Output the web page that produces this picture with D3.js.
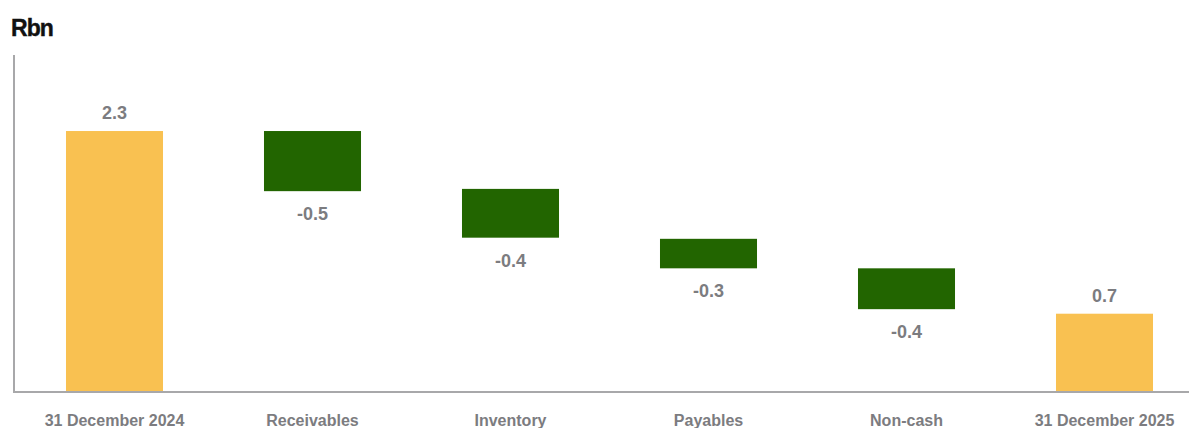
<!DOCTYPE html>
<html>
<head>
<meta charset="utf-8">
<script src="https://cdn.jsdelivr.net/npm/d3@7"></script>
<style>
  body { margin: 0; background: #fff; }
  svg { display: block; font-family: "Liberation Sans", Arial, sans-serif; }
</style>
</head>
<body>
<div id="chart"></div>
<script>
// waterfall data (Rbn)
const categories = ["31 December 2024", "Receivables", "Inventory", "Payables", "Non-cash", "31 December 2025"];
const barFrom = [0, 2.30, 1.79, 1.35, 1.09, 0];
const barTo = [2.30, 1.77, 1.36, 1.09, 0.73, 0.69];
const valueLabels = ["2.3", "-0.5", "-0.4", "-0.3", "-0.4", "0.7"];
const barKind = ["total", "delta", "delta", "delta", "delta", "total"];

const width = 1189, height = 428;
const baseY = 392, axisLeft = 14;

const svg = d3.select("#chart")
    .append("svg")
    .attr("width", width)
    .attr("height", height);

const x = d3.scaleBand()
    .domain(categories)
    .range([15.5, 1203.5])
    .paddingInner(0.51)
    .paddingOuter(0.255);

const y = d3.scaleLinear()
    .domain([0, 2.97])
    .range([baseY, 55]);

const color = { total: "#f9c151", delta: "#226500" };
const grey = "#7c7c80";

// title
svg.append("text")
    .attr("x", 11)
    .attr("y", 36)
    .attr("font-size", 23)
    .attr("font-weight", "bold")
    .attr("letter-spacing", -0.9)
    .attr("stroke", "#111")
    .attr("stroke-width", 0.4)
    .attr("fill", "#111")
    .text("Rbn");

const rows = categories.map((c, i) => ({
    cat: c,
    from: barFrom[i],
    to: barTo[i],
    label: valueLabels[i],
    kind: barKind[i]
}));

svg.append("g")
    .selectAll("rect")
    .data(rows)
    .enter()
    .append("rect")
    .attr("x", d => x(d.cat))
    .attr("width", x.bandwidth())
    .attr("y", d => y(Math.max(d.from, d.to)))
    .attr("height", d => Math.abs(y(d.from) - y(d.to)))
    .attr("fill", d => color[d.kind]);

// value labels: above totals, below the drops
svg.append("g")
    .selectAll("text")
    .data(rows)
    .enter()
    .append("text")
    .attr("x", d => x(d.cat) + x.bandwidth() / 2)
    .attr("y", d => d.kind == "total" ? y(d.to) - 12 : y(d.to) + 29)
    .attr("text-anchor", "middle")
    .attr("font-size", 18)
    .attr("font-weight", "bold")
    .attr("fill", grey)
    .text(d => d.label);

// axes
svg.append("line")
    .attr("x1", axisLeft).attr("x2", axisLeft)
    .attr("y1", y.range()[1]).attr("y2", baseY)
    .attr("stroke", "#a8a8aa")
    .attr("stroke-width", 2);

const xAxis = svg.append("g")
    .attr("transform", "translate(0," + baseY + ")")
    .call(d3.axisBottom(x).tickSize(0).tickPadding(23));

xAxis.select(".domain").remove();
xAxis.append("line")
    .attr("x1", axisLeft - 1).attr("x2", width)
    .attr("stroke", "#a8a8aa")
    .attr("stroke-width", 2);

xAxis.selectAll(".tick text")
    .attr("font-size", 16)
    .attr("font-weight", "bold")
    .attr("font-family", "'Liberation Sans', Arial, sans-serif")
    .attr("fill", grey);
</script>
</body>
</html>
